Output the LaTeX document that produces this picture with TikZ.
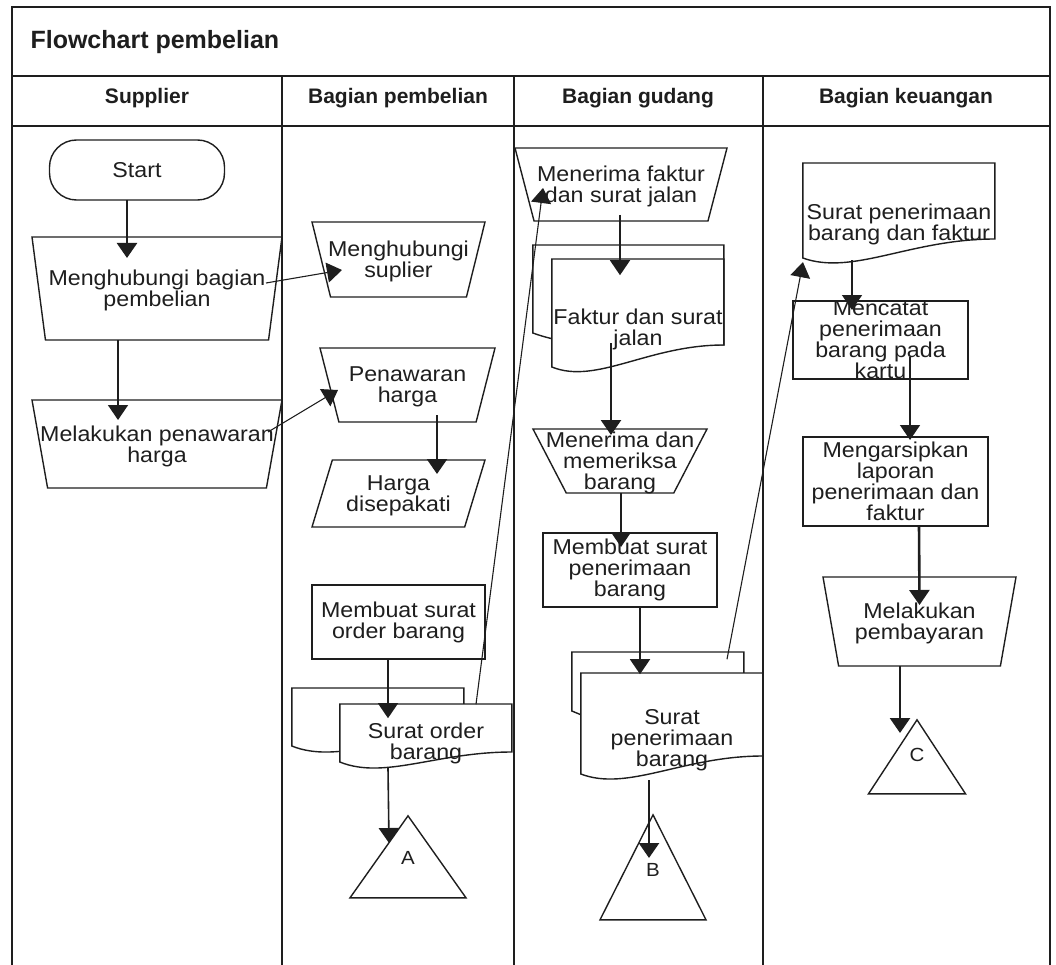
\documentclass[tikz,border=0pt]{standalone}
\usepackage{fontspec}
\setmainfont{Liberation Sans}
\newfontfamily\bodyfont{Liberation Sans}[FakeStretch=1.08]
\usepackage{xcolor}
\usetikzlibrary{arrows.meta,calc,shapes.geometric}
\definecolor{inkblack}{RGB}{30,30,30}
\pgfdeclarelayer{background}
\pgfsetlayers{background,main}

% wavy document sheet: top-left corner, width, left depth, right depth
\newcommand{\sheet}[4]{%
  \draw[shp, fill=white] (#1) -- ([xshift=#2]#1) -- ([xshift=#2, yshift=-#4]#1)
    .. controls ([xshift=0.56*#2, yshift=-#4]#1) and ([xshift=0.26*#2, yshift=-#3-18]#1)
    .. ([yshift=-#3]#1) -- cycle;}

\begin{document}
\begin{tikzpicture}[
    x=1pt, y=-1pt,
    every node/.style={text=inkblack},
    lane/.style={draw=inkblack, line width=2pt},
    shp/.style={draw=inkblack, line width=1.4pt},
    body/.style={font=\bodyfont\fontsize{21.5}{21}\selectfont, align=center},
    head/.style={font=\fontsize{21}{24}\selectfont\bfseries},
    terminal/.style={shp, body, rectangle, rounded corners=27pt, minimum width=175pt, minimum height=60pt},
    proc/.style={shp, body, rectangle, inner sep=0pt},
    manop/.style={shp, body, trapezium, shape border rotate=180, trapezium stretches body,
                  inner xsep=-40pt, inner ysep=0pt, text depth=-6pt},
    inout/.style={shp, body, trapezium, trapezium stretches body, inner xsep=-40pt, inner ysep=0pt,
                  text depth=-8pt},
    doc/.style={body, rectangle, anchor=north, inner sep=0pt},
    offpage/.style={shp, isosceles triangle, shape border rotate=90, isosceles triangle stretches,
                    anchor=apex, inner sep=0pt},
    letter/.style={font=\bodyfont\fontsize{19}{19}\selectfont, text=inkblack},
    arr/.style={draw=inkblack, line width=1.6pt, -{Triangle[length=15pt, width=20pt]}},
    thick arr/.style={arr, line width=2.6pt},
    thin arr/.style={arr, line width=1.1pt}
  ]
  \useasboundingbox (0,0) rectangle (1056,965);

  % swimlane frame
  \draw[lane] (12,965) -- (12,7) -- (1050,7) -- (1050,965);
  \draw[lane] (12,76) -- (1050,76);
  \draw[lane] (12,126) -- (1050,126);
  \draw[lane] (282,76) -- (282,965);
  \draw[lane] (514,76) -- (514,965);
  \draw[lane] (763,76) -- (763,965);

  \node[anchor=west, font=\fontsize{25}{27}\selectfont\bfseries] (title) at (27,42) {Flowchart pembelian};
  \node[head] (hsup) at (147,98) {Supplier};
  \node[head] (hbel) at (398,98) {Bagian pembelian};
  \node[head] (hgud) at (638,98) {Bagian gudang};
  \node[head] (hkeu) at (906,98) {Bagian keuangan};

  % Supplier
  \node[terminal] (start) at (137,170) {Start};
  \node[manop, trapezium angle=69.8, minimum width=250pt, minimum height=103pt] (hubbel) at (157,288.5) {Menghubungi bagian\\pembelian};
  \node[manop, trapezium angle=66.9, minimum width=250pt, minimum height=88pt] (tawar) at (157,444) {Melakukan penawaran\\harga};

  % Bagian pembelian
  \node[manop, trapezium angle=63.1, minimum width=173pt, minimum height=75pt] (hubsup) at (398.5,259.5) {Menghubungi\\suplier};
  \node[manop, trapezium angle=62.2, minimum width=175pt, minimum height=74pt] (penharga) at (407.5,385) {Penawaran\\harga};
  \node[inout, trapezium left angle=60.4, trapezium right angle=119.6, minimum width=173pt, minimum height=67pt] (sepakat) at (398.5,493.5) {Harga\\disepakati};
  \node[proc, minimum width=173pt, minimum height=74pt] (buatso) at (398.5,622) {Membuat surat\\order barang};
  \node[doc, minimum width=172pt, minimum height=78pt] (so) at (426,704) {Surat order\\barang};
  \node[offpage, minimum width=116pt, minimum height=82pt,
        label={[letter, yshift=10pt]center:A}] (offa) at (408,814) {};

  % Bagian gudang
  \node[manop, trapezium angle=62.5, minimum width=212pt, minimum height=73pt] (terimafj) at (621,184.5) {Menerima faktur\\dan surat jalan};
  \node[doc, minimum width=172pt, minimum height=140pt] (fsj) at (638,259) {Faktur dan surat\\jalan};
  \node[manop, trapezium angle=60, minimum width=174pt, minimum height=64pt] (periksa) at (620,461) {Menerima dan\\memeriksa\\barang};
  \node[proc, minimum width=174pt, minimum height=74pt] (buatspb) at (630,570) {Membuat surat\\penerimaan\\barang};
  \node[doc, minimum width=182pt, minimum height=134pt] (spb) at (672,673) {Surat\\penerimaan\\barang};
  \node[offpage, minimum width=106pt, minimum height=105pt,
        label={[letter, yshift=17pt]center:B}] (offb) at (653,813) {};

  % Bagian keuangan
  \node[doc, minimum width=192pt, minimum height=122pt] (spbf) at (899,163) {Surat penerimaan\\barang dan faktur};
  \node[proc, minimum width=175pt, minimum height=74pt] (catat) at (880.5,340) {Mencatat\\penerimaan\\barang pada\\kartu};
  \node[proc, minimum width=185pt, minimum height=89pt] (arsip) at (895.5,481.5) {Mengarsipkan\\laporan\\penerimaan dan\\faktur};
  \node[manop, trapezium angle=66.9, minimum width=193pt, minimum height=89pt] (bayar) at (919.5,621.5) {Melakukan\\pembayaran};
  \node[offpage, minimum width=97pt, minimum height=74pt,
        label={[letter, yshift=13pt]center:C}] (offc) at (917,718) {};

  % document sheets behind the texts
  \begin{pgfonlayer}{background}
    \coordinate (sob) at ($(so.north west)+(-48,-16)$);
    \sheet{sob}{172}{58}{48}
    \sheet{so.north west}{172}{58}{48}
    \coordinate (fsjb) at ($(fsj.north west)+(-19,-14)$);
    \sheet{fsjb}{191}{88}{100}
    \sheet{fsj.north west}{172}{108}{86}
    \coordinate (spbb) at ($(spb.north west)+(-9,-21)$);
    \sheet{spbb}{172}{59}{104}
    \sheet{spb.north west}{182}{101}{83}
    \sheet{spbf.north west}{192}{95}{76}
  \end{pgfonlayer}

  % flow
  \draw[thick arr] ($(start)+(-10,30)$) -- ($(hubbel)+(-30,-30.5)$);
  \draw[arr] ($(hubbel)+(-39,51.5)$) -- ($(tawar)+(-39,-24)$);
  \draw[thin arr] ($(hubbel)+(109,-5.5)$) -- ($(hubsup)+(-56.5,10.5)$);
  \draw[thin arr] ($(tawar)+(111,-12)$) -- ($(penharga)+(-69.5,5)$);
  \draw[thick arr] ($(penharga)+(29.5,30)$) -- ($(sepakat)+(38.5,-19.5)$);
  \draw[arr] ($(buatso)+(-10.5,37)$) -- ($(so)+(-38,-25)$);
  \draw[arr] ($(so)+(-38,25)$) -- ($(offa.apex)+(-19,29)$);
  \draw[thin arr] ($(so)+(50,-39)$) -- ($(terimafj)+(-78,3.5)$);
  \draw[arr] ($(terimafj)+(-1,30.5)$) -- ($(fsj)+(-18,-54)$);
  \draw[thick arr] ($(fsj)+(-27,14)$) -- ($(periksa)+(-9,-26)$);
  \draw[arr] ($(periksa)+(1,32)$) -- ($(buatspb)+(-9,-23)$);
  \draw[arr] ($(buatspb)+(10,37)$) -- ($(spb)+(-32,-66)$);
  \draw[thick arr] ($(spb)+(-23,40)$) -- ($(offb.apex)+(-4,45)$);
  \draw[thin arr] ($(spb)+(55,-81)$) -- ($(spbf)+(-96,38)$);
  \draw[arr] ($(spbf)+(-47,36)$) -- ($(catat)+(-28.5,-30)$);
  \draw[arr] ($(catat)+(29.5,17)$) -- ($(arsip)+(14.5,-41.5)$);
  \draw[thick arr] ($(arsip)+(23.5,44.5)$) -- ($(bayar)+(0,-16.5)$);
  \draw[thick arr] ($(bayar)+(-19.5,44.5)$) -- ($(offc.apex)+(-17,15)$);
\end{tikzpicture}
\end{document}
